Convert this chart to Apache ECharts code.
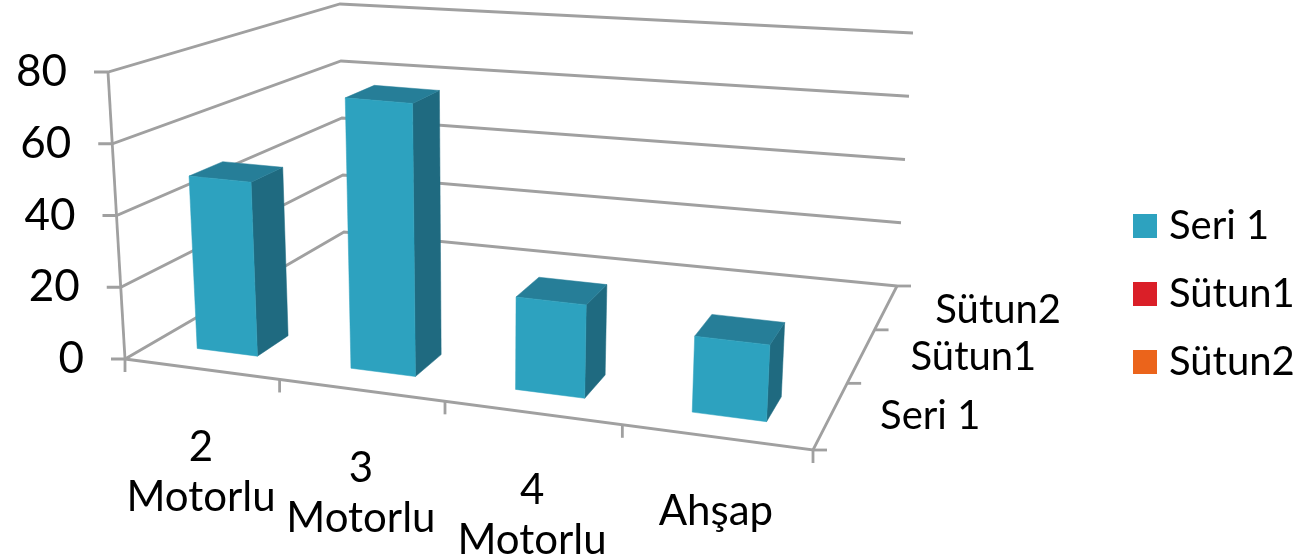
<!DOCTYPE html>
<html><head><meta charset="utf-8">
<style>html,body{margin:0;padding:0;background:#fff}#c{width:1313px;height:560px}</style>
<script src="https://cdn.jsdelivr.net/npm/echarts@6/dist/echarts.min.js"></script>
</head><body><div id="c"></div>
<script>
const categories = ['2\nMotorlu', '3\nMotorlu', '4\nMotorlu', 'Ahşap'];
const seriesNames = ['Seri 1', 'Sütun1', 'Sütun2'];
const seri1 = [49, 75, 25, 20];
const sutun1 = [];
const sutun2 = [];
const valueTicks = [0, 20, 40, 60, 80];
const seriesColors = ['#2DA2BF', '#DA1F28', '#EB641B'];

const FONT = 'Lato, "Open Sans", sans-serif';
const GRID = {left: 125, top: 72, width: 688, height: 287};
// frame of the 3D box: [front/back][left/right] at value 0 and at the axis maximum
const FRAME = {
  fl0: [125, 359], fr0: [813, 450], bl0: [344, 232], br0: [897, 286],
  fl1: [108, 72],  fr1: [829, 132], bl1: [340, 4],   br1: [913, 33]
};
const lerp = (a, b, t) => [a[0] + (b[0] - a[0]) * t, a[1] + (b[1] - a[1]) * t];
const warp = (t, k) => t / (t + k * (1 - t));
// u: along categories, v: along depth, h: value height, all in 0..1
function project(u, v, h) {
  const U = warp(u, 1.15), V = warp(v, 0.73);
  const floor = lerp(lerp(FRAME.fl0, FRAME.fr0, U), lerp(FRAME.bl0, FRAME.br0, U), V);
  const roof = lerp(lerp(FRAME.fl1, FRAME.fr1, U), lerp(FRAME.bl1, FRAME.br1, U), V);
  return lerp(floor, roof, h);
}
const heightOf = (api, val) => (GRID.top + GRID.height - api.coord([0, val])[1]) / GRID.height;
const LINE = {stroke: '#A0A0A0', lineWidth: 2.8, fill: null};
const line = pts => ({type: 'polyline', shape: {points: pts}, style: LINE});
const poly = (pts, fill) => ({type: 'polygon', shape: {points: pts}, style: {fill, stroke: fill, lineWidth: 0.5}});
const txt = (text, x, y, size, align, vAlign) => ({type: 'text', style: {text, x, y, fill: '#000', font: size + 'px ' + FONT, align, verticalAlign: vAlign, lineHeight: 50}});

function renderValueTick(params, api) {
  const val = api.value(1), h = heightOf(api, val);
  const a = project(0, 0, h), b = project(0, 1, h), c = project(1, 1, h);
  return {type: 'group', children: [
    line([[a[0] - 14, a[1]], a, b, c]),
    txt(String(val), a[0] - 41, a[1], 44, 'right', 'middle')
  ]};
}
function renderFrame() {
  const ch = [
    line([project(0, 0, 0), project(0, 0, 1)]),
    line([project(0, 0, 0), project(1, 0, 0), project(1, 1, 0)])
  ];
  for (let i = 0; i <= categories.length; i++) {
    const p = project(i / categories.length, 0, 0);
    ch.push(line([p, [p[0], p[1] + 13]]));
  }
  for (let i = 0; i <= seriesNames.length; i++) {
    const p = project(1, i / seriesNames.length, 0);
    ch.push(line([p, [p[0] + 14, p[1]]]));
  }
  return {type: 'group', children: ch};
}
function renderCategoryLabel(params, api) {
  const i = api.value(0), n = categories.length;
  const p = project((i + 0.5) / n, 0, 0);
  const name = categories[i];
  return txt(name, p[0], p[1] + (name.indexOf('\n') >= 0 ? 53 : 49), 42, 'center', 'top');
}
function renderDepthLabel(params, api) {
  const i = params.dataIndex;
  const p = project(1, (i + 0.5) / seriesNames.length, 0);
  return txt(seriesNames[i], p[0] + 49, p[1] + 1 + i, 40, 'left', 'middle');
}
function renderBar(depth, colors) {
  return function (params, api) {
    const center = api.coord([api.value(0), 0])[0];
    const band = api.size([1, 0])[0];
    const u0 = (center - band * 0.2 - GRID.left) / GRID.width;
    const u1 = (center + band * 0.2 - GRID.left) / GRID.width;
    const v0 = (depth + 0.29) / seriesNames.length;
    const v1 = (depth + 0.67) / seriesNames.length;
    const h = heightOf(api, api.value(1));
    const P = (u, v, t) => project(u, v, t);
    return {type: 'group', children: [
      poly([P(u1, v0, 0), P(u1, v1, 0), P(u1, v1, h), P(u1, v0, h)], colors[2]),
      poly([P(u0, v0, h), P(u1, v0, h), P(u1, v1, h), P(u0, v1, h)], colors[1]),
      poly([P(u0, v0, 0), P(u1, v0, 0), P(u1, v0, h), P(u0, v0, h)], colors[0])
    ]};
  };
}
const toPairs = arr => arr.map((v, i) => [i, v]);
const custom = (o) => Object.assign({type: 'custom', silent: true, clip: false, animation: false, coordinateSystem: 'cartesian2d'}, o);

const chart = echarts.init(document.getElementById('c'));
chart.setOption({
  animation: false,
  backgroundColor: '#fff',
  grid: GRID,
  xAxis: {type: 'category', data: categories, show: false},
  yAxis: {type: 'value', min: 0, max: 80, interval: 20, show: false},
  legend: {
    orient: 'vertical', left: 1133, top: 206, padding: 0, itemGap: 28, itemWidth: 24, itemHeight: 24,
    icon: 'rect', selectedMode: false, data: seriesNames,
    textStyle: {fontSize: 40, fontFamily: FONT, color: '#000', padding: [0, 0, 0, 7]}
  },
  series: [
    custom({id: 'ticks', data: valueTicks.map(v => [0, v]), renderItem: renderValueTick, z: 1}),
    custom({id: 'frame', data: [[0, 0]], renderItem: renderFrame, z: 1}),
    custom({id: 'catLabels', data: categories.map((c, i) => [i, 0]), renderItem: renderCategoryLabel, z: 1}),
    custom({id: 'depthLabels', data: seriesNames.map((c, i) => [0, 0]), renderItem: renderDepthLabel, z: 1}),
    custom({name: seriesNames[0], data: toPairs(seri1), itemStyle: {color: seriesColors[0]}, z: 4,
      renderItem: renderBar(0, ['#2DA2BF', '#267E98', '#1F6A80'])}),
    custom({name: seriesNames[1], data: toPairs(sutun1), itemStyle: {color: seriesColors[1]}, z: 3,
      renderItem: renderBar(1, ['#DA1F28', '#A8181F', '#8F141A'])}),
    custom({name: seriesNames[2], data: toPairs(sutun2), itemStyle: {color: seriesColors[2]}, z: 2,
      renderItem: renderBar(2, ['#EB641B', '#B84E15', '#9E4312'])})
  ]
});
</script></body></html>
